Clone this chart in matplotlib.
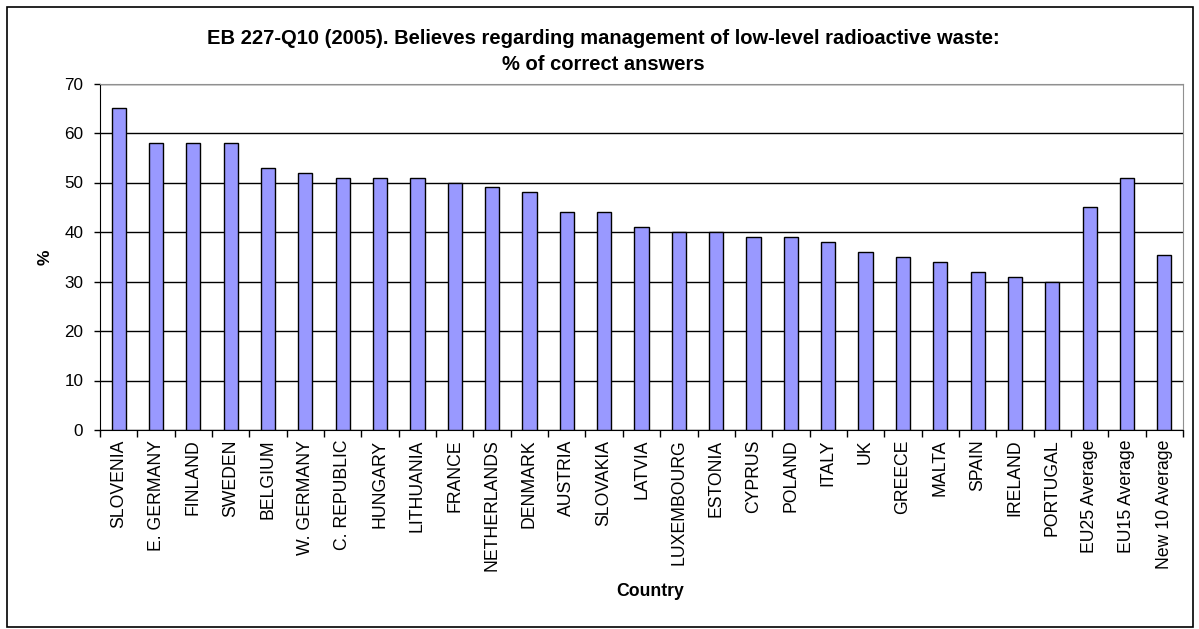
import matplotlib.pyplot as plt
import numpy as np
from matplotlib.patches import Rectangle

plt.rcParams['font.family'] = ['Liberation Sans', 'DejaVu Sans']

countries = ['SLOVENIA', 'E. GERMANY', 'FINLAND', 'SWEDEN', 'BELGIUM', 'W. GERMANY',
             'C. REPUBLIC', 'HUNGARY', 'LITHUANIA', 'FRANCE', 'NETHERLANDS', 'DENMARK',
             'AUSTRIA', 'SLOVAKIA', 'LATVIA', 'LUXEMBOURG', 'ESTONIA', 'CYPRUS', 'POLAND',
             'ITALY', 'UK', 'GREECE', 'MALTA', 'SPAIN', 'IRELAND', 'PORTUGAL',
             'EU25 Average', 'EU15 Average', 'New 10 Average']
correct = [65, 58, 58, 58, 53, 52, 51, 51, 51, 50, 49, 48, 44, 44, 41, 40, 40, 39, 39,
           38, 36, 35, 34, 32, 31, 30, 45, 51, 35.4]

W, H = 1199, 629
fig = plt.figure(figsize=(W / 100, H / 100), dpi=100)
ax = fig.add_axes([100 / W, (H - 430) / H, (1183 - 100) / W, (430 - 83.5) / H])

x = np.arange(len(countries))
ax.bar(x, correct, width=0.38, color='#9999ff', edgecolor='black', linewidth=1, zorder=3)

ax.set_xlim(-0.5, len(countries) - 0.5)
ax.set_ylim(0, 70)
ax.set_yticks(range(0, 71, 10))
ax.yaxis.grid(True, color='black', linewidth=1)
ax.set_axisbelow(True)

# labels at bar centres, tick marks between categories
ax.set_xticks(x)
ax.set_xticklabels(countries, rotation=90, fontsize=12.7)
ax.tick_params(axis='x', length=0, pad=7)
ax.set_xticks(np.arange(-0.5, len(countries)), minor=True)
ax.tick_params(axis='x', which='minor', length=5, width=1, direction='out')
ax.tick_params(axis='y', labelsize=12.3, length=4, width=1, direction='out', pad=8)

for side in ['top', 'right']:
    ax.spines[side].set_color('#909090')
for side in ['left', 'bottom']:
    ax.spines[side].set_color('black')

fig.text(45 / W, 1 - 257 / H, '%', rotation=90, ha='center', va='center',
         fontsize=12.5, fontweight='bold')
fig.text(650 / W, 1 - 592 / H, 'Country', ha='center', va='center',
         fontsize=12.7, fontweight='bold')
fig.text(603 / W, 1 - 38 / H,
         'EB 227-Q10 (2005). Believes regarding management of low-level radioactive waste:',
         ha='center', va='center', fontsize=14.5, fontweight='bold')
fig.text(603 / W, 1 - 64 / H, '% of correct answers',
         ha='center', va='center', fontsize=14.5, fontweight='bold')

# chart border
fig.patches.append(Rectangle((7 / W, 1 - 627 / H), (1193 - 7) / W, (627 - 7) / H,
                             transform=fig.transFigure, fill=False,
                             edgecolor='black', linewidth=1.2))

fig.savefig('out.png', dpi=100)
